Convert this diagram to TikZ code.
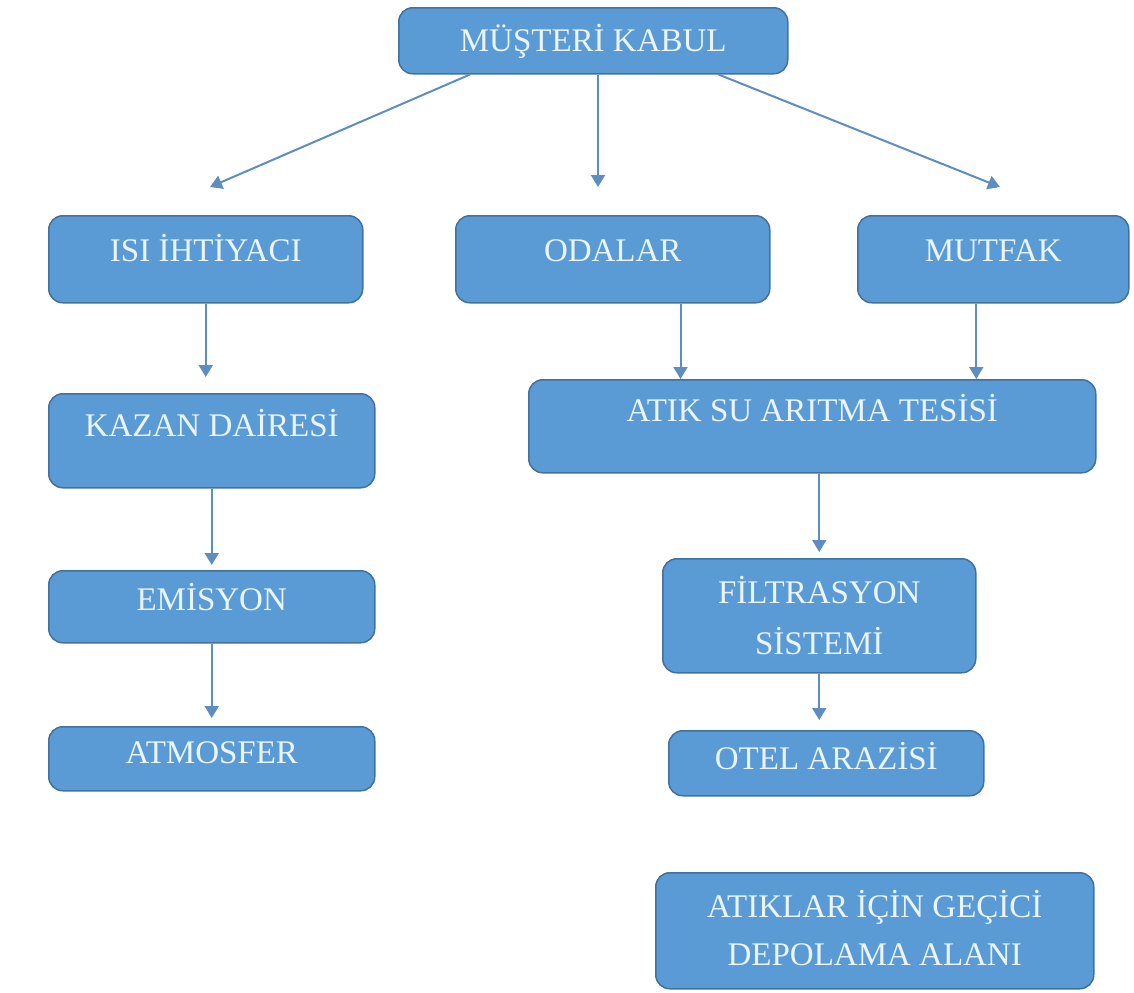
\documentclass[tikz,border=0pt]{standalone}
\usepackage{fontspec}
\setmainfont{Liberation Serif}
\usetikzlibrary{calc,arrows.meta,positioning}
\definecolor{dolgu}{HTML}{5B9BD5}
\definecolor{kenar}{HTML}{41719C}
\definecolor{okrenk}{HTML}{5E8DC2}
\definecolor{yazi}{HTML}{EAF4FB}

\begin{document}
\begin{tikzpicture}[x=0.5pt,y=-0.5pt,
  kutu/.style={
    draw=kenar,
    fill=dolgu,
    line width=.75pt,
    rounded corners=7pt,
    text=yazi,
    align=center,
    inner sep=0pt,
    anchor=north west,
    font=\fontsize{16.5}{24}\selectfont},
  ok/.style={draw=okrenk, line width=1pt, -{Triangle[width=7pt,length=6pt]}},
  ]

  \useasboundingbox (0,0) rectangle (1134,992);

  \node (kabul) [kutu, minimum width=194.5pt, text height=22pt, text depth=11pt] at (398,7) {MÜŞTERİ KABUL};

  \node (isi) [kutu, minimum width=157pt, text height=23pt, text depth=20.5pt] at (48,215) {ISI İHTİYACI};
  \node (odalar) [kutu, minimum width=157pt, text height=23pt, text depth=20.5pt] at (455,215) {ODALAR};
  \node (mutfak) [kutu, minimum width=135.5pt, text height=23pt, text depth=20.5pt] at (857,215) {MUTFAK};

  \node (kazan) [kutu, minimum width=163pt, text height=21.5pt, text depth=25.5pt] at (48,393) {KAZAN DAİRESİ};
  \node (emisyon) [kutu, minimum width=163pt, text height=20pt, text depth=16pt] at (48,570) {EMİSYON};
  \node (atmosfer) [kutu, minimum width=163pt, text height=18.5pt, text depth=13.5pt] at (48,726) {ATMOSFER};

  \node (atik) [kutu, minimum width=283.5pt, text height=21pt, text depth=25.5pt] at (528,379) {ATIK SU ARITMA TESİSİ};
  \node (filtr) [kutu, minimum width=156.5pt, text height=48pt, text depth=9pt,
    font=\fontsize{16.5}{25.5}\selectfont] at (662,558) {FİLTRASYON\\SİSTEMİ};
  \node (otel) [kutu, minimum width=157.5pt, text height=19.5pt, text depth=13pt] at (668,730) {OTEL ARAZİSİ};
  \node (depo) [kutu, minimum width=219pt, text height=46.5pt, text depth=11.5pt] at (655,872) {ATIKLAR İÇİN GEÇİCİ\\DEPOLAMA ALANI};

  % ok uclari
  \coordinate (solUc) at (210,187);
  \coordinate (ortaUc) at (598,187);
  \coordinate (sagUc) at (1000,187);
  \path ($(odalar.south east)+(-90,0)$) coordinate (odaAlt);
  \path ($(mutfak.south)+(-17,0)$) coordinate (mutfakAlt);

  \draw[ok] ($(kabul.south west)+(72,0)$) -- (solUc);
  \draw[ok] (kabul.south -| ortaUc) -- (ortaUc);
  \draw[ok] ($(kabul.south east)+(-70,0)$) -- (sagUc);

  \draw[ok, shorten >=8pt] (isi.south) -- (isi.south |- kazan.north);
  \draw[ok, shorten >=2.5pt] (kazan.south) -- (kazan.south |- emisyon.north);
  \draw[ok, shorten >=4pt] (emisyon.south) -- (emisyon.south |- atmosfer.north);

  \draw[ok] (odaAlt) -- (odaAlt |- atik.north);
  \draw[ok] (mutfakAlt) -- (mutfakAlt |- atik.north);
  \draw[ok, shorten >=3pt] (filtr.north |- atik.south) -- (filtr.north);
  \draw[ok, shorten >=5pt] (filtr.south) -- (filtr.south |- otel.north);

\end{tikzpicture}
\end{document}
